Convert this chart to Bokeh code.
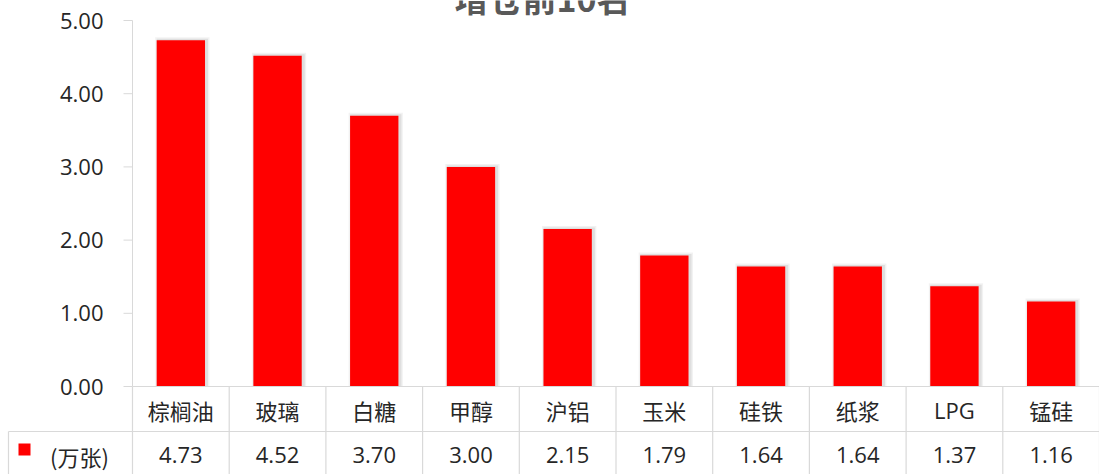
import numpy as np
from bokeh.plotting import figure
from bokeh.models import Range1d, ColumnDataSource
from bokeh.core.properties import value
from bokeh.embed import file_html
from bokeh.resources import INLINE

# ---- data ----
title_text = "增仓前10名"
categories = ["棕榈油", "玻璃", "白糖", "甲醇", "沪铝", "玉米", "硅铁", "纸浆", "LPG", "锰硅"]
values = [4.73, 4.52, 3.70, 3.00, 2.15, 1.79, 1.64, 1.64, 1.37, 1.16]
series_name = "(万张)"
y_ticks = [0, 1, 2, 3, 4, 5]
y_tick_labels = ["0.00", "1.00", "2.00", "3.00", "4.00", "5.00"]

# ---- layout (pixels) ----
W, H = 1099, 474
AX_X = 132      # y-axis position
TOP = 20        # pixel of y = 5
BASE = 386      # pixel of y = 0
ROW = 431       # table row separator
YMAX = 5
n = len(categories)
px_x = (W - AX_X) / n
px_y = (BASE - TOP) / YMAX


def dx(px):
    return (px - AX_X) / px_x


def dy(py):
    return (BASE - py) / px_y


GRID = "#d9d9d9"
TXT = "#262626"
RED = "#ff0000"

p = figure(width=W, height=H,
           x_range=Range1d(dx(0), dx(W)), y_range=Range1d(dy(H), dy(0)),
           output_backend="svg", toolbar_location=None,
           x_axis_type=None, y_axis_type=None,
           min_border=0, outline_line_color=None,
           background_fill_color="white", border_fill_color="white")

xs = np.arange(n) + 0.5
vals = np.array(values)
src = ColumnDataSource(dict(x=xs, top=vals, cat=categories,
                            lab=["%.2f" % v for v in values],
                            font=["Open Sans" if c.isascii() else "Noto Sans CJK SC" for c in categories]))

# soft shadow
for grow, a in [(6, 0.05), (3, 0.08)]:
    p.vbar(x=xs + 1.5 / px_x, top=vals + grow / 2 / px_y, bottom=0,
           width=0.5 + grow / px_x, color="#000000", alpha=a, line_color=None)
p.vbar(x="x", top="top", bottom=0, width=0.5, source=src, color=RED, line_color=None)

# y axis
p.segment(x0=[dx(AX_X)], y0=[0], x1=[dx(AX_X)], y1=[YMAX], line_color=GRID, line_width=1)
p.segment(x0=[dx(123)] * len(y_ticks), y0=y_ticks, x1=[dx(AX_X)] * len(y_ticks), y1=y_ticks,
          line_color=GRID, line_width=1)
p.text(x=[dx(103)] * len(y_ticks), y=y_ticks, text=y_tick_labels,
       text_align="right", text_baseline="middle", text_font=value("Open Sans"),
       text_font_size="22px", text_color=TXT)

# data table lines
p.segment(x0=[dx(AX_X)], y0=[0], x1=[dx(W)], y1=[0], line_color=GRID, line_width=1.2)
p.segment(x0=[dx(8)], y0=[dy(ROW)], x1=[dx(W)], y1=[dy(ROW)], line_color=GRID, line_width=1.2)
edges = np.arange(n + 1)
p.segment(x0=edges, y0=[0] * (n + 1), x1=edges, y1=[dy(H)] * (n + 1), line_color=GRID, line_width=1.2)
p.segment(x0=[dx(8)], y0=[dy(ROW)], x1=[dx(8)], y1=[dy(H)], line_color=GRID, line_width=1.2)

# table text
p.text(x="x", y=dy(409), text="cat", source=src, text_font="font",
       text_align="center", text_baseline="middle", text_font_size="22px", text_color=TXT)
p.text(x="x", y=dy(454), text="lab", source=src, text_font=value("Open Sans"),
       text_align="center", text_baseline="middle", text_font_size="22px", text_color=TXT)

# legend key cell
p.scatter(x=[dx(24)], y=[dy(449)], marker="square", size=12, color=RED, line_color=None)
p.text(x=[dx(79)], y=[dy(455)], text=[series_name], text_font=value("Noto Sans CJK SC"),
       text_align="center", text_baseline="middle", text_font_size="22px", text_color=TXT)

# title (partly cut at the top, as in the reference)
p.text(x=[dx(542)], y=[dy(-3)], text=[title_text], text_font=value("Noto Sans CJK SC"),
       text_font_style="bold", text_align="center", text_baseline="alphabetic",
       text_font_size="34px", text_color="#595959")

open("out.html", "w").write(file_html(p, INLINE))
